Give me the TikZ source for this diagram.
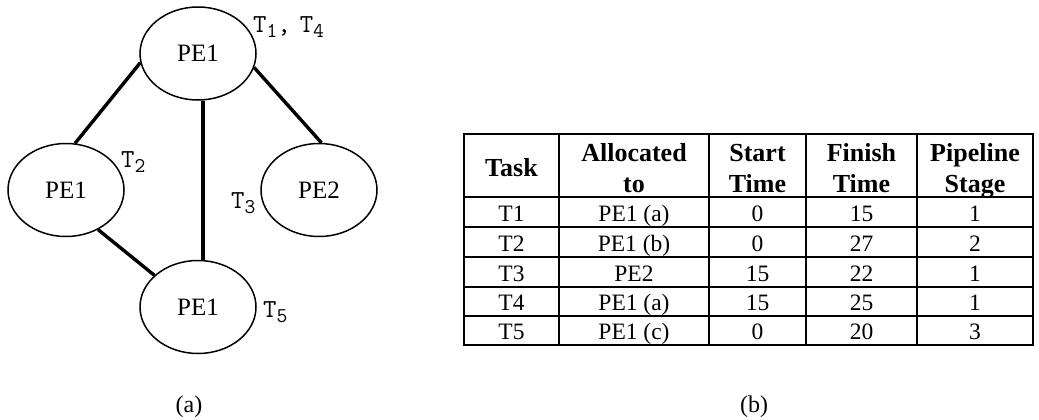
\documentclass[tikz,border=0pt]{standalone}
\usepackage{fontspec}
\setmainfont{Liberation Serif}
\usetikzlibrary{shapes.geometric}

% task name with a lowered index, set in the typewriter face
\newcommand\tsub[2]{#1\raisebox{-5pt}{\fontsize{21}{21}\selectfont #2}}

\begin{document}
\begin{tikzpicture}[x=1pt,y=-1pt,
  pe/.style={ellipse,draw,line width=1.5pt,minimum width=116pt,minimum height=93pt,
             inner sep=0pt,font=\fontsize{25}{29}\selectfont},
  link/.style={line width=3.4pt},
  tlabel/.style={anchor=base west,inner sep=0pt,font=\ttfamily\fontsize{26}{30}\selectfont},
  hd/.style={anchor=base,inner sep=0pt,font=\bfseries\fontsize{26}{30}\selectfont},
  cell/.style={anchor=base,inner sep=0pt,font=\fontsize{23.5}{27}\selectfont},
  grid/.style={line width=2.8pt},
  captionlbl/.style={inner sep=0pt,font=\fontsize{24}{28}\selectfont}]

\useasboundingbox (0,0) rectangle (1039,420);

% ---------- processor graph ----------
\node[pe] (top)    at (198,53.5) {PE1};
\node[pe] (left)   at (66,190)   {PE1};
\node[pe] (right)  at (319,190)  {PE2};
\node[pe] (bottom) at (198,307)  {PE1};

\draw[link] (top.189) -- (left.79);
\draw[link] (top.-14) -- (right.87);
\draw[link] (top.276) -- (bottom.84);
\draw[link] (left.-51) -- (bottom.144);

\node[tlabel] (t14) at (253,33)  {\tsub{T}{1},\hspace{9pt}\tsub{T}{4}};
\node[tlabel] (t2)  at (121,167) {\tsub{T}{2}};
\node[tlabel] (t3)  at (231,208) {\tsub{T}{3}};
\node[tlabel] (t5)  at (263,317) {\tsub{T}{5}};

\node[captionlbl] (capa) at (189,407) {(a)};

% ---------- allocation table ----------
\draw[grid] (464,134) rectangle (1033,345);
\foreach \yy in {197,227,257,287,316}
  \draw[grid] (464,\yy) -- (1033,\yy);
\foreach \xx in {559,709,806,917}
  \draw[grid] (\xx,134) -- (\xx,345);

% header
\node[hd] (h1)  at (511.5,176) {Task};
\node[hd] (h2a) at (634,161)   {Allocated};
\node[hd] (h2b) at (634,192)   {to};
\node[hd] (h3a) at (757.5,161) {Start};
\node[hd] (h3b) at (757.5,192) {Time};
\node[hd] (h4a) at (861.5,161) {Finish};
\node[hd] (h4b) at (861.5,192) {Time};
\node[hd] (h5a) at (975,161)   {Pipeline};
\node[hd] (h5b) at (975,192)   {Stage};

% body rows
\foreach \yy/\cTask/\cProc/\cStart/\cFinish/\cStage [count=\r] in
  {221/T1/PE1 (a)/0/15/1,
   251/T2/PE1 (b)/0/27/2,
   281/T3/PE2/15/22/1,
   310.5/T4/PE1 (a)/15/25/1,
   339.5/T5/PE1 (c)/0/20/3}{
  \node[cell] (r\r c1) at (511.5,\yy) {\cTask};
  \node[cell] (r\r c2) at (634,\yy)   {\cProc};
  \node[cell] (r\r c3) at (757.5,\yy) {\cStart};
  \node[cell] (r\r c4) at (861.5,\yy) {\cFinish};
  \node[cell] (r\r c5) at (975,\yy)   {\cStage};
}

\node[captionlbl] (capb) at (754,407) {(b)};
\end{tikzpicture}
\end{document}
